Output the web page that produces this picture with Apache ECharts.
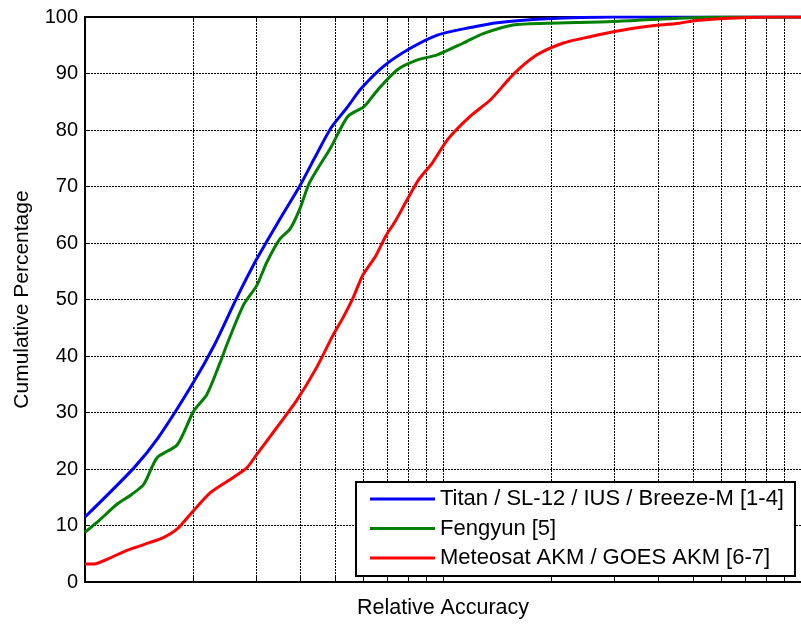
<!DOCTYPE html>
<html>
<head>
<meta charset="utf-8">
<script src="https://cdn.jsdelivr.net/npm/echarts@6/dist/echarts.min.js"></script>
<style>
  html, body { margin: 0; padding: 0; background: #fff; }
  #chart { width: 801px; height: 624px; }
</style>
</head>
<body>
<div id="chart"></div>
<script>
// values (x is log scale, arbitrary units)
const seriesNames = [
    'Titan / SL-12 / IUS / Breeze-M [1-4]',
    'Fengyun [5]',
    'Meteosat AKM / GOES AKM [6-7]'
];
const titanData = [
    [1.00, 11.5], [1.37, 20.2], [1.6, 25.5], [1.99, 34.9], [2.3, 42.0], [2.65, 50.2],
    [3.02, 57.2], [3.5, 64.2], [3.98, 70.1], [4.4, 75.3], [4.87, 80.4], [5.4, 84.0],
    [5.9, 87.3], [6.86, 91.4], [8.13, 94.5], [9.64, 96.8], [11.4, 97.9], [14.2, 99.0],
    [19.5, 99.7], [29.9, 100], [100, 100]
];
const fengyunData = [
    [1.00, 8.8], [1.1, 11.0], [1.23, 13.8], [1.35, 15.5], [1.46, 17.3], [1.59, 22.0],
    [1.81, 24.3], [2.01, 30.2], [2.19, 33.2], [2.39, 39.0], [2.49, 42.0], [2.77, 49.0],
    [3.02, 52.5], [3.22, 56.6], [3.5, 60.7], [3.74, 62.5], [3.98, 66.0], [4.24, 70.7],
    [4.87, 77.0], [5.42, 82.4], [6.03, 84.2], [6.57, 87.1], [7.47, 90.7], [8.49, 92.4],
    [9.64, 93.3], [11.4, 95.4], [13.0, 97.1], [15.7, 98.6], [19.5, 98.9], [29.9, 99.2],
    [45.7, 99.8], [63, 100], [100, 100]
];
const meteosatData = [
    [1.00, 3.2], [1.06, 3.2], [1.16, 4.1], [1.31, 5.6], [1.52, 7.0], [1.66, 7.9],
    [1.81, 9.4], [1.97, 12.0], [2.24, 15.8], [2.55, 18.2], [2.83, 20.2], [3.02, 22.6],
    [3.43, 27.3], [3.89, 32.0], [4.43, 37.9], [4.93, 43.7], [5.25, 46.7], [5.60, 50.2],
    [5.97, 54.3], [6.50, 57.8], [6.93, 61.3], [7.38, 64.0], [7.87, 67.2], [8.57, 71.3],
    [9.34, 74.2], [10.3, 78.3], [11.9, 82.4], [13.6, 85.4], [15.7, 89.8], [18.3, 93.3],
    [21.7, 95.4], [25.7, 96.5], [29.9, 97.4], [36.9, 98.3], [45.7, 98.9], [50.9, 99.4],
    [62.9, 99.8], [86.7, 100], [100, 100]
];
const gridXValues = [1, 2, 3, 4, 5, 6, 7, 8, 9, 10, 20, 30, 40, 50, 60, 70, 80, 90, 100];
const seriesColors = ['#0000ff', '#008000', '#ff0000'];

const font = 'Liberation Sans, Arial, sans-serif';
const dotted = { color: '#000', width: 1, type: [2, 1] };

const chart = echarts.init(document.getElementById('chart'), null, { renderer: 'canvas' });

function curve(name, data, color) {
    return {
        name: name,
        type: 'line',
        data: data,
        showSymbol: false,
        symbol: 'none',
        smooth: 0.25,
        z: 5,
        lineStyle: { color: color, width: 3 },
        itemStyle: { color: color }
    };
}

const option = {
    backgroundColor: '#fff',
    animation: false,
    grid: { left: 85, right: -4, top: 17, bottom: 39 },
    legend: {
        orient: 'vertical',
        left: 356,
        top: 482,
        padding: [6, 11, 7, 14],
        itemWidth: 65,
        itemHeight: 3,
        itemGap: 7.5,
        icon: 'rect',
        backgroundColor: '#fff',
        borderColor: '#000',
        borderWidth: 2,
        borderRadius: 0,
        textStyle: { fontFamily: font, fontSize: 22, lineHeight: 22, color: '#000' },
        data: seriesNames
    },
    xAxis: [{
        type: 'log',
        logBase: 10,
        min: 1,
        max: 100,
        name: 'Relative Accuracy',
        nameLocation: 'middle',
        nameGap: 15,
        nameTextStyle: { fontFamily: font, fontSize: 21.5, color: '#000', verticalAlign: 'top' },
        axisLine: { lineStyle: { color: '#000', width: 2 } },
        axisTick: { inside: true, length: 5, customValues: gridXValues, lineStyle: { color: '#000' } },
        axisLabel: { show: false },
        splitLine: { show: true, lineStyle: dotted },
        minorTick: { show: false },
        minorSplitLine: { show: false }
    }, {
        type: 'log',
        logBase: 10,
        position: 'top',
        min: 1,
        max: 100,
        axisLine: { show: true, lineStyle: { color: '#000', width: 2 } },
        axisTick: { inside: true, length: 5, customValues: gridXValues, lineStyle: { color: '#000' } },
        axisLabel: { show: false },
        splitLine: { show: false }
    }],
    yAxis: {
        type: 'value',
        min: 0,
        max: 100,
        interval: 10,
        name: 'Cumulative Percentage',
        nameLocation: 'middle',
        nameGap: 52,
        nameTextStyle: { fontFamily: font, fontSize: 21, color: '#000' },
        axisLine: { show: true, lineStyle: { color: '#000', width: 2 } },
        axisTick: { show: true, inside: true, length: 5, lineStyle: { color: '#000' } },
        axisLabel: { fontFamily: font, fontSize: 20, color: '#000', margin: 7 },
        splitLine: { show: true, lineStyle: dotted }
    },
    series: [
        curve(seriesNames[0], titanData, seriesColors[0]),
        curve(seriesNames[1], fengyunData, seriesColors[1]),
        curve(seriesNames[2], meteosatData, seriesColors[2])
    ]
};

chart.setOption(option);
</script>
</body>
</html>
